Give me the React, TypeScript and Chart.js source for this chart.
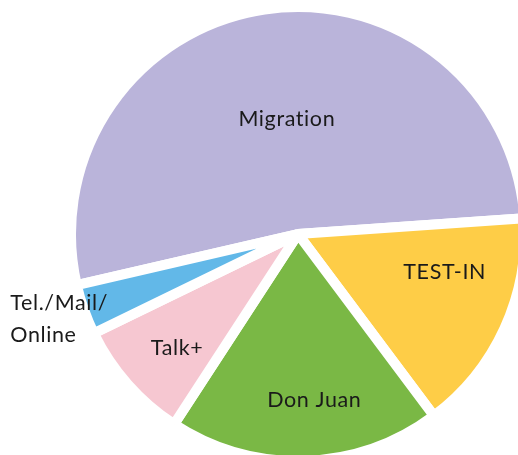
import React, { useEffect, useRef } from "react";
import { Chart, registerables } from "chart.js";

Chart.register(...registerables);

const categories = ["Migration", "TEST-IN", "Don Juan", "Talk+", "Tel./Mail/Online"];
const labelLines = [["Migration"], ["TEST-IN"], ["Don Juan"], ["Talk+"], ["Tel./Mail/", "Online"]];
const shares = [52.5, 15.9, 19.4, 8.6, 3.6];
const colors = ["#bab4da", "#fecd47", "#7ab845", "#f6c7d1", "#62b8e8"];

// label placement (style): angle shift from slice middle (deg), distance as fraction of radius, alignment
const labelAngleShift = [3, -10.3, -3.8, -1.6, 3.2];
const labelDist = [0.512, 0.667, 0.733, 0.729, 1.32];
const labelAlign: CanvasTextAlign[] = ["center", "center", "center", "center", "left"];

const FONT_SIZE = 21.5;
const LINE_GAP = 31.7;

const labelPlugin = {
  id: "sliceLabels",
  afterDatasetsDraw(chart: any) {
    const ctx = chart.ctx;
    const meta = chart.getDatasetMeta(0);
    ctx.save();
    ctx.font = `${FONT_SIZE}px Lato, "DejaVu Sans", sans-serif`;
    (ctx as any).letterSpacing = "0.6px";
    ctx.fillStyle = "#1a1a1a";
    ctx.textBaseline = "alphabetic";
    meta.data.forEach((arc: any, i: number) => {
      const { x, y, startAngle, endAngle, outerRadius } = arc.getProps(
        ["x", "y", "startAngle", "endAngle", "outerRadius"],
        true
      );
      const mid = (startAngle + endAngle) / 2 + (labelAngleShift[i] * Math.PI) / 180;
      const r = outerRadius * labelDist[i];
      const cx = x + Math.cos(mid) * r;
      const cy = y + Math.sin(mid) * r;
      const lines = labelLines[i];
      ctx.textAlign = labelAlign[i];
      lines.forEach((ln, k) => {
        const ly = cy + (k - (lines.length - 1) / 2) * LINE_GAP + FONT_SIZE * 0.36;
        ctx.fillText(ln, cx, ly);
      });
    });
    ctx.restore();
  },
};

export default function App() {
  const ref = useRef<HTMLCanvasElement | null>(null);
  useEffect(() => {
    if (!ref.current) return;
    const chart = new Chart(ref.current, {
      type: "pie",
      data: {
        labels: categories,
        datasets: [
          {
            data: shares,
            backgroundColor: colors,
            borderColor: "#ffffff",
            borderWidth: 10,
            hoverBorderWidth: 10,
            hoverOffset: 0,
            borderAlign: "center",
          },
        ],
      },
      options: {
        responsive: false,
        animation: false,
        rotation: 257,
        layout: { padding: { left: 66, top: 2, right: 10, bottom: 4 } },
        plugins: {
          legend: { display: false },
          tooltip: { enabled: false },
        },
        events: [],
      },
      plugins: [labelPlugin],
    });
    return () => chart.destroy();
  }, []);
  return (
    <div
      style={{
        position: "fixed",
        left: 0,
        top: 0,
        width: 518,
        height: 455,
        overflow: "hidden",
        background: "#ffffff",
      }}
    >
      <canvas
        ref={ref}
        width={540}
        height={470}
        style={{ position: "absolute", left: 0, top: 0, width: 540, height: 470 }}
      />
    </div>
  );
}
